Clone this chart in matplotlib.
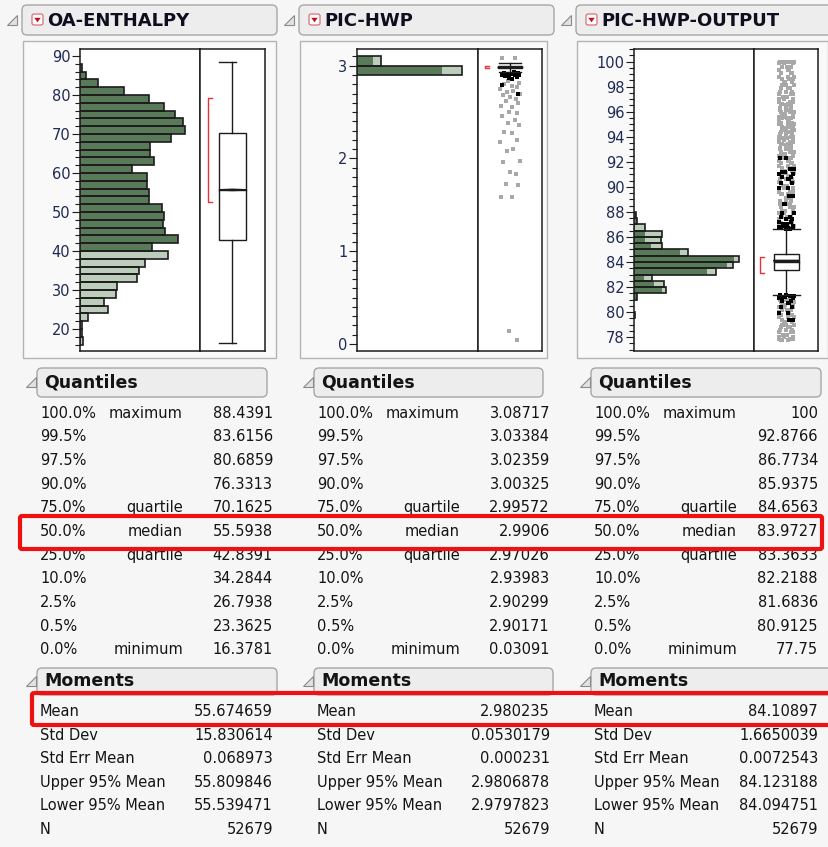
import numpy as np
import matplotlib.pyplot as plt
from matplotlib.patches import FancyBboxPatch, Rectangle, Polygon
from matplotlib.ticker import MultipleLocator, FormatStrFormatter

W, H = 829, 847

# ---- data ----
titles = ['OA-ENTHALPY', 'PIC-HWP', 'PIC-HWP-OUTPUT']

# OA-ENTHALPY histogram, bin width 2 (bin lower edges), selected part is dark
oa_bins = [16, 18, 20, 22, 24, 26, 28, 30, 32, 34, 36, 38, 40, 42, 44, 46, 48, 50,
           52, 54, 56, 58, 60, 62, 64, 66, 68, 70, 72, 74, 76, 78, 80, 82, 84, 86]
oa_counts = [84, 43, 59, 212, 706, 604, 926, 951, 1454, 1497, 1665, 2252, 1828, 2499,
             2175, 2109, 2142, 2083, 1752, 1752, 1709, 1709, 1326, 1895, 1777, 1777,
             2321, 2685, 2634, 2423, 2142, 1752, 1114, 467, 145, 43]
oa_sel = [0, 0, 0, 0, 0, 0, 0, 0, 0, 0, 0, 0, 1828, 2499,
          2175, 2109, 2142, 2083, 1752, 1752, 1709, 1709, 1326, 1895, 1777, 1777,
          2321, 2685, 2634, 2423, 2142, 1752, 1114, 467, 145, 43]

# PIC-HWP histogram, bin width 0.1
hwp_bins = [2.9, 3.0]
hwp_counts = [42840, 9790]
hwp_sel = [34680, 6530]

# PIC-HWP-OUTPUT histogram, bin width 0.5
out_bins = [79.5, 81.0, 81.5, 82.0, 82.5, 83.0, 83.5, 84.0, 84.5, 85.0, 85.5, 86.0, 86.5, 87.0, 87.5]
out_counts = [150, 270, 3200, 3030, 1770, 8200, 9930, 10500, 5430, 2770, 2670, 2770, 1100, 300, 200]
out_sel = [150, 270, 2770, 2000, 1000, 7330, 9270, 10000, 4600, 1670, 1100, 1100, 100, 300, 200]

# quantiles
q_pct = ['100.0%', '99.5%', '97.5%', '90.0%', '75.0%', '50.0%', '25.0%', '10.0%', '2.5%', '0.5%', '0.0%']
q_name = ['maximum', '', '', '', 'quartile', 'median', 'quartile', '', '', '', 'minimum']
oa_q = ['88.4391', '83.6156', '80.6859', '76.3313', '70.1625', '55.5938', '42.8391',
        '34.2844', '26.7938', '23.3625', '16.3781']
hwp_q = ['3.08717', '3.03384', '3.02359', '3.00325', '2.99572', '2.9906', '2.97026',
         '2.93983', '2.90299', '2.90171', '0.03091']
out_q = ['100', '92.8766', '86.7734', '85.9375', '84.6563', '83.9727', '83.3633',
         '82.2188', '81.6836', '80.9125', '77.75']

# moments
m_names = ['Mean', 'Std Dev', 'Std Err Mean', 'Upper 95% Mean', 'Lower 95% Mean', 'N']
oa_m = ['55.674659', '15.830614', '0.068973', '55.809846', '55.539471', '52679']
hwp_m = ['2.980235', '0.0530179', '0.000231', '2.9806878', '2.9797823', '52679']
out_m = ['84.10897', '1.6650039', '0.0072543', '84.123188', '84.094751', '52679']

# box plot whisker ends and shortest half
oa_whisk = [16.3781, 88.4391]
hwp_whisk = [2.9321, 3.0339]
out_whisk = [81.38, 86.60]
oa_short = [52.6, 79.2]
hwp_short = [2.978, 3.002]
out_short = [83.15, 84.4]

# outlier points seen in the box plots
hwp_out_gray = [3.085, 3.08, 2.83, 2.81, 2.80, 2.78, 2.77, 2.75, 2.73, 2.72, 2.70, 2.68, 2.66,
                2.64, 2.62, 2.60, 2.57, 2.55, 2.50, 2.49, 2.46, 2.41, 2.38, 2.36, 2.29, 2.27,
                2.20, 2.18, 2.10, 2.08, 1.97, 1.96, 1.85, 1.83, 1.72, 1.71, 1.59, 1.59, 0.14, 0.045]
hwp_out_black = [2.93, 2.925, 2.92, 2.915, 2.91, 2.905, 2.90, 2.895, 2.89, 2.88, 2.87, 2.86, 2.79, 2.69]
out_up_gray = [100.0, 100.0, 100.0, 99.9, 99.6, 99.3, 99.1, 98.8, 98.6, 98.4, 98.1, 97.9, 97.6,
               97.4, 97.2, 97.0, 96.8, 96.6, 96.5, 96.3, 96.1, 96.0, 95.8, 95.6, 95.5, 95.3,
               95.1, 95.0, 94.8, 94.7, 94.5, 94.4, 94.2, 94.0, 93.9, 93.7, 93.6, 93.4, 93.3,
               93.1, 93.0, 92.8, 92.6, 92.5, 92.3, 92.1, 91.9, 91.7, 91.5, 91.3, 91.1, 90.9,
               90.6, 90.4, 90.1, 89.9, 89.6, 89.4, 89.1, 88.9, 88.6, 88.4, 88.1, 87.9, 87.6,
               87.4, 87.1, 86.9, 86.7]
out_up_black = [92.3, 91.4, 91.2, 91.0, 90.8, 90.6, 90.3, 89.9, 89.3, 88.6,
                87.9, 87.6, 87.4, 87.2, 87.0, 86.9, 86.8, 86.7, 86.65]
out_lo_gray = [81.0, 80.8, 80.6, 80.4, 80.2, 80.0, 79.8, 79.6, 79.4, 79.2, 79.0, 78.8,
               78.6, 78.4, 78.2, 78.0, 77.85, 77.75]
out_lo_black = [81.35, 81.3, 81.2, 81.1, 80.9, 80.7, 80.4, 79.9, 79.4]
jit_a = [-0.10, 0.06, -0.02, 0.11, -0.07, 0.02, 0.09, -0.12, 0.04, -0.04, 0.12, -0.09, 0.0,
         0.07, -0.05, 0.10, -0.11, 0.03, -0.01, 0.08]
jit_b = [0.05, -0.08, 0.10, -0.03, 0.01, -0.11, 0.07, 0.12, -0.06, 0.09, -0.01, 0.03, -0.10,
         0.11, -0.04, -0.12, 0.06, -0.07, 0.08, 0.0]
jit_c = [0.0, 0.12, -0.06, -0.11, 0.08, 0.04, -0.09, 0.02, 0.11, -0.02, -0.07, 0.06, 0.09,
         -0.12, 0.01, -0.04, 0.10, -0.08, 0.05, -0.10]

# ---- style ----
BG = '#f6f6f6'
HDR = '#ededed'
DARK = '#587a58'
LIGHT = '#bccdbc'
EDGE = '#1c1c1c'
TICKC = '#1f2a55'
TXT = '#141414'
RED = '#ee1111'
GRAYPT = '#a8a8a8'

plt.rcParams['font.family'] = ['DejaVu Sans']

fig = plt.figure(figsize=(W / 100, H / 100), dpi=100, facecolor=BG)
bg = fig.add_axes([0, 0, 1, 1])
bg.set_xlim(0, W)
bg.set_ylim(H, 0)
bg.axis('off')


def fax(x0, y0, x1, y1):
    return fig.add_axes([x0 / W, 1 - y1 / H, (x1 - x0) / W, (y1 - y0) / H])


def header_box(x0, y0, x1, y1, tri_x):
    bg.add_patch(FancyBboxPatch((x0, y0), x1 - x0, y1 - y0,
                                boxstyle='round,pad=0,rounding_size=5',
                                fc=HDR, ec='#a6a6a6', lw=1, zorder=2))
    ym = (y0 + y1) / 2
    bg.add_patch(Polygon([(tri_x + 10, ym - 5), (tri_x + 10, ym + 5), (tri_x, ym + 5)],
                         closed=True, fc='#e2e2e2', ec='#8a8a8a', lw=0.8, zorder=2))


def jitter(n, base):
    return np.resize(np.array(base), n)


# panel geometry in pixels
offs = [0, 277, 554]
val_right = [273, 550, 818]
title_x1 = [277, 554, 835]
frame_x1 = [276, 547, 828]
qhdr_x1 = [267, 543, 821]
mhdr_x1 = [277, 553, 835]

hist_data = [(oa_bins, oa_counts, oa_sel, 2.0),
             (hwp_bins, hwp_counts, hwp_sel, 0.1),
             (out_bins, out_counts, out_sel, 0.5)]
xmax = [3060, 49370, 12000]
ylims = [(14.36, 91.8), (-0.075, 3.18), (76.9, 101.0)]
majors = [10, 1, 2]
minors = [2, 0.1, 0.5]
hist_x = [(80, 200), (357, 478), (634, 754)]
box_x = [(200, 265), (478, 542), (754, 818)]
quants = [oa_q, hwp_q, out_q]
moments = [oa_m, hwp_m, out_m]
whisks = [oa_whisk, hwp_whisk, out_whisk]
shorts = [oa_short, hwp_short, out_short]
centers = [0.5, 0.5, 0.505]
halfw = [0.208, 0.19, 0.2]
caps = [(0.297, 0.554), (0.33, 0.67), (0.29, 0.72)]
brack_x = [0.12, 0.11, 0.09]

for i in range(3):
    o = offs[i]
    # title header
    header_box(22 + o, 5, title_x1[i], 35, 7 + o)
    bg.add_patch(FancyBboxPatch((32 + o, 14), 11, 11, boxstyle='round,pad=0,rounding_size=2',
                                fc='white', ec='#d9707a', lw=0.9, zorder=3))
    bg.add_patch(Polygon([(34.3 + o, 17.8), (40.7 + o, 17.8), (37.5 + o, 22.3)], closed=True,
                         fc='#cc0a1e', ec='none', zorder=4))
    bg.text(47 + o, 20.5, titles[i], fontsize=13, weight='bold', color='#0e0e1e',
            va='center', ha='left', zorder=4)
    # plot frame
    bg.add_patch(Rectangle((23 + o, 41), frame_x1[i] - 23 - o, 317, fc='#f9f9f9',
                           ec='#b4b4b4', lw=1, zorder=1))

    # histogram
    bins, cnt, sel, bw = hist_data[i]
    hx0, hx1 = hist_x[i]
    ax = fax(hx0, 49, hx1, 351)
    ax.barh(bins, cnt, height=bw, align='edge', color=LIGHT, linewidth=0, zorder=2)
    ax.barh(bins, sel, height=bw, align='edge', color=DARK, linewidth=0, zorder=3)
    ax.barh(bins, cnt, height=bw, align='edge', fill=False, edgecolor=EDGE, linewidth=1.2, zorder=4)
    ax.set_xlim(0, xmax[i])
    ax.set_ylim(*ylims[i])
    ax.set_facecolor('white')
    ax.yaxis.set_major_locator(MultipleLocator(majors[i]))
    ax.yaxis.set_minor_locator(MultipleLocator(minors[i]))
    ax.yaxis.set_major_formatter(FormatStrFormatter('%g'))
    ax.set_xticks([])
    ax.tick_params(axis='y', which='major', length=5.5, width=0.8, color=EDGE,
                   labelsize=10.5, labelcolor=TICKC, pad=1.5)
    ax.tick_params(axis='y', which='minor', length=3.5, width=0.8, color=EDGE)
    for s in ax.spines.values():
        s.set_linewidth(1.1)
        s.set_color(EDGE)

    # box plot
    bx0, bx1 = box_x[i]
    bax = fax(bx0, 49, bx1, 351)
    bax.set_xlim(0, 1)
    bax.set_ylim(*ylims[i])
    bax.set_xticks([])
    bax.set_yticks([])
    bax.set_facecolor('white')
    for s in bax.spines.values():
        s.set_linewidth(1.1)
        s.set_color(EDGE)
    qv = [float(v) for v in quants[i]]
    q75, q50, q25 = qv[4], qv[5], qv[6]
    c, hw = centers[i], halfw[i]
    wlo, whi = whisks[i]
    lw = 1.0
    if i == 1:
        bax.scatter(c + jitter(len(hwp_out_gray), jit_a) * 1.3, hwp_out_gray, s=8, marker='s',
                    color=GRAYPT, linewidths=0, zorder=2)
        bax.scatter(c + jitter(len(hwp_out_black), jit_b) * 1.2, hwp_out_black, s=10, marker='s',
                    color='black', linewidths=0, zorder=3)
    if i == 2:
        for ys in (out_up_gray, out_lo_gray):
            for jb in (jit_a, jit_b, jit_c):
                bax.scatter(c + jitter(len(ys), jb), ys, s=9, marker='s', color=GRAYPT,
                            linewidths=0, zorder=2)
        for ys in (out_up_black, out_lo_black):
            for jb in (jit_a, jit_c):
                bax.scatter(c + jitter(len(ys), jb), ys, s=9, marker='s', color='black',
                            linewidths=0, zorder=3)
    bax.add_patch(Rectangle((c - hw, q25), 2 * hw, q75 - q25, fc='white', ec=EDGE, lw=lw, zorder=4))
    bax.plot([c - hw, c + hw], [q50, q50], color=EDGE, lw=lw, zorder=5)
    bax.plot([c, c], [q75, whi], color=EDGE, lw=lw, zorder=4)
    bax.plot([c, c], [wlo, q25], color=EDGE, lw=lw, zorder=4)
    bax.plot(caps[i], [whi, whi], color=EDGE, lw=lw, zorder=4)
    bax.plot(caps[i], [wlo, wlo], color=EDGE, lw=lw, zorder=4)
    mu, up95, lo95 = float(moments[i][0]), float(moments[i][3]), float(moments[i][4])
    bax.add_patch(Polygon([(c - hw, mu), (c, up95), (c + hw, mu), (c, lo95)], closed=True,
                          fc=EDGE, ec=EDGE, lw=1.2, zorder=6))
    # shortest half bracket
    bl = brack_x[i]
    sl, sh = shorts[i]
    bax.plot([bl + 0.06, bl, bl, bl + 0.06], [sh, sh, sl, sl], color='#e8303a', lw=1.0, zorder=5)

    # quantiles table
    header_box(37 + o, 368, qhdr_x1[i], 397, 26 + o)
    bg.text(44 + o, 382.5, 'Quantiles', fontsize=12.5, weight='bold', color=TXT, va='center', zorder=4)
    for r in range(len(q_pct)):
        y = 413 + r * 23.7
        bg.text(40 + o, y, q_pct[r], fontsize=10.5, color=TXT, va='center', ha='left', zorder=4)
        if q_name[r]:
            bg.text(183 + o, y, q_name[r], fontsize=10.5, color=TXT, va='center', ha='right', zorder=4)
        bg.text(val_right[i], y, quants[i][r], fontsize=10.5, color=TXT, va='center', ha='right', zorder=4)

    # moments table
    header_box(37 + o, 668, mhdr_x1[i], 695, 26 + o)
    bg.text(44 + o, 681.5, 'Moments', fontsize=12.5, weight='bold', color=TXT, va='center', zorder=4)
    for r in range(len(m_names)):
        y = 712 + r * 23.4
        bg.text(40 + o, y, m_names[r], fontsize=10.5, color=TXT, va='center', ha='left', zorder=4)
        bg.text(val_right[i], y, moments[i][r], fontsize=10.5, color=TXT, va='center', ha='right', zorder=4)

# red highlight boxes
bg.add_patch(FancyBboxPatch((20, 516), 802, 33, boxstyle='round,pad=0,rounding_size=2',
                            fill=False, ec=RED, lw=3, zorder=10))
bg.add_patch(FancyBboxPatch((32, 693), 805, 32, boxstyle='round,pad=0,rounding_size=2',
                            fill=False, ec=RED, lw=3, zorder=10))

fig.savefig('out.png', dpi=100, facecolor=BG)
